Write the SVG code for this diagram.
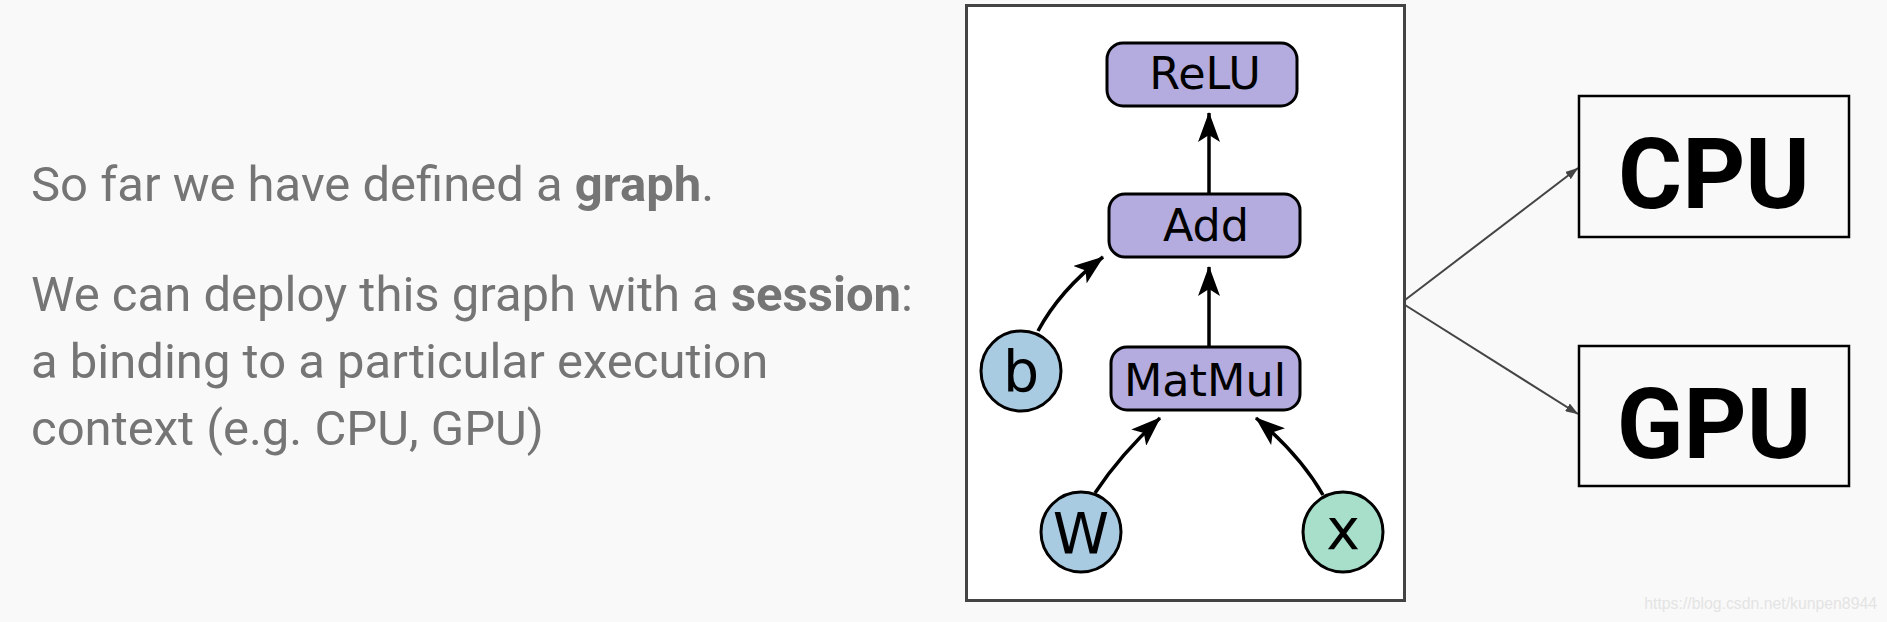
<svg xmlns="http://www.w3.org/2000/svg" width="1887" height="622" viewBox="0 0 1887 622">
  <defs>
    <style>
      .txt { font-family: Roboto, "Liberation Sans", sans-serif; font-size: 49px; fill: #757575; }
      .b { font-weight: bold; }
      .op { fill: #b4acdf; stroke: #000; stroke-width: 3; }
      .var { stroke: #000; stroke-width: 3; }
      .lbl { font-family: "DejaVu Sans", sans-serif; font-size: 44.5px; fill: #000; text-anchor: middle; }
      .vl { font-family: "DejaVu Sans", sans-serif; font-size: 57px; fill: #000; text-anchor: middle; }
      .edge { fill: none; stroke: #000; stroke-width: 3.5; marker-end: url(#ah); }
      .dev { fill: none; stroke: #000; stroke-width: 2.5; }
      .devtxt { font-family: Roboto, "Liberation Sans", sans-serif; font-weight: bold; font-size: 98px; fill: #000; text-anchor: middle; }
      .link { fill: none; stroke: #444; stroke-width: 2; marker-end: url(#sa); }
    </style>
    <marker id="ah" viewBox="0 0 30 22" refX="29" refY="11" markerWidth="30" markerHeight="22" markerUnits="userSpaceOnUse" orient="auto">
      <path d="M0,0 L30,11 L0,22 L7,11 z" fill="#000"/>
    </marker>
    <marker id="sa" viewBox="0 0 13 9" refX="12.5" refY="4.5" markerWidth="13" markerHeight="9" markerUnits="userSpaceOnUse" orient="auto">
      <path d="M0,0 L13,4.5 L0,9 z" fill="#444"/>
    </marker>
  </defs>
  <rect x="0" y="0" width="1887" height="622" fill="#f9f9f9"/>

  <g id="text">
    <text class="txt" x="31" y="201">So far we have defined a <tspan class="b">graph</tspan>.</text>
    <text class="txt" x="31" y="311">We can deploy this graph with a <tspan class="b">session</tspan>:</text>
    <text class="txt" x="31" y="378">a binding to a particular execution</text>
    <text class="txt" x="31" y="445">context (e.g. CPU, GPU)</text>
  </g>

  <g id="panel">
    <rect x="966.5" y="5.5" width="438" height="595" fill="#fff" stroke="#444" stroke-width="3"/>
  </g>

  <g id="connectors">
    <path class="edge" d="M1209,193 L1209,113"/>
    <path class="edge" d="M1209,346 L1209,267"/>
    <path class="edge" d="M1038,331 Q1060,290 1103,257"/>
    <path class="edge" d="M1095,493 Q1120,455 1160,418"/>
    <path class="edge" d="M1323,495 Q1300,455 1256,418"/>
    <path class="link" d="M1405,300 L1578,168"/>
    <path class="link" d="M1405,305 L1578,414"/>
  </g>

  <g id="relu">
    <rect class="op" x="1107" y="43" width="190" height="63" rx="16"/>
    <text class="lbl" x="1205" y="89">ReLU</text>
  </g>
  <g id="add">
    <rect class="op" x="1109" y="194" width="191" height="63" rx="16"/>
    <text class="lbl" x="1206" y="241">Add</text>
  </g>
  <g id="matmul">
    <rect class="op" x="1111" y="347" width="189" height="63" rx="16"/>
    <text class="lbl" x="1205" y="396">MatMul</text>
  </g>
  <g id="b">
    <circle class="var" cx="1021" cy="371" r="40" fill="#a9cbe1"/>
    <text class="vl" x="1021" y="391">b</text>
  </g>
  <g id="w">
    <circle class="var" cx="1081" cy="532" r="40" fill="#a9cbe1"/>
    <text class="vl" x="1081" y="554">W</text>
  </g>
  <g id="x">
    <circle class="var" cx="1343" cy="532" r="40" fill="#a7dfcb"/>
    <text class="vl" x="1343" y="549">x</text>
  </g>

  <g id="cpu">
    <rect class="dev" x="1579" y="96" width="270" height="141"/>
    <text class="devtxt" x="1714" y="208">CPU</text>
  </g>
  <g id="gpu">
    <rect class="dev" x="1579" y="346" width="270" height="140"/>
    <text class="devtxt" x="1714" y="458">GPU</text>
  </g>

  <text x="1877" y="609" font-family="'Liberation Sans', Arial, sans-serif" font-size="15.8" fill="#e4e4e4" text-anchor="end">https://blog.csdn.net/kunpen8944</text>
</svg>
